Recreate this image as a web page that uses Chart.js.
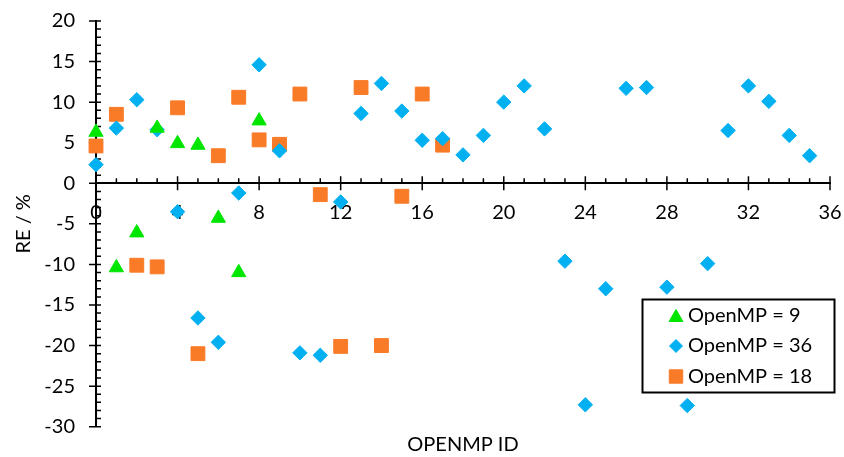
<!DOCTYPE html>
<html>
<head>
<meta charset="utf-8">
<script src="https://cdn.jsdelivr.net/npm/chart.js@4/dist/chart.umd.min.js"></script>
<style>
  html, body { margin: 0; padding: 0; background: #fff; }
  #wrap { width: 844px; height: 457px; position: relative; }
</style>
</head>
<body>
<div id="wrap"><canvas id="reChart"></canvas></div>
<script>
// RE (%) per OpenMP ID, one series per OpenMP setting
const ids9 = [0, 1, 2, 3, 4, 5, 6, 7, 8];
const re9 = [6.3, -10.4, -6.1, 6.8, 4.9, 4.7, -4.3, -11.0, 7.7];

const ids36 = [0, 1, 2, 3, 4, 5, 6, 7, 8, 9, 10, 11, 12, 13, 14, 15, 16, 17,
  18, 19, 20, 21, 22, 23, 24, 25, 26, 27, 28, 29, 30, 31, 32, 33, 34, 35];
const re36 = [2.3, 6.8, 10.3, 6.6, -3.5, -16.6, -19.6, -1.2, 14.6, 4.0,
  -20.9, -21.2, -2.3, 8.6, 12.3, 8.9, 5.3, 5.5, 3.5, 5.9, 10.0, 12.0, 6.7,
  -9.6, -27.3, -13.0, 11.7, 11.8, -12.8, -27.4, -9.9, 6.5, 12.0, 10.1, 5.9, 3.4];

const ids18 = [0, 1, 2, 3, 4, 5, 6, 7, 8, 9, 10, 11, 12, 13, 14, 15, 16, 17];
const re18 = [4.6, 8.5, -10.1, -10.3, 9.3, -21.0, 3.4, 10.6, 5.35, 4.8,
  11.0, -1.4, -20.1, 11.8, -20.0, -1.6, 11.0, 4.7];

const seriesNames = ["OpenMP = 9", "OpenMP = 36", "OpenMP = 18"];

const FONT = "Lato, 'Open Sans', sans-serif";

const toPoints = (xs, ys) => xs.map((x, i) => ({ x, y: ys[i] }));

// keep the label overhang from pushing the plot area around
const noOverhang = (scale) => {
  scale.paddingTop = 0;
  scale.paddingBottom = 0;
  scale.paddingLeft = 0;
  scale.paddingRight = 0;
};

// small tick marks like the original (minor 1, major every 4 / 5)
const tickMarks = {
  id: "tickMarks",
  beforeDatasetsDraw(chart) {
    const { ctx, scales: { x, y } } = chart;
    const yZero = y.getPixelForValue(0);
    const xZero = x.getPixelForValue(0);
    ctx.save();
    ctx.strokeStyle = "#000";
    ctx.lineWidth = 1.5;
    ctx.beginPath();
    for (let v = 0; v <= 36; v++) {
      const px = x.getPixelForValue(v);
      if (v % 4 === 0) {
        ctx.moveTo(px, yZero - 7);
        ctx.lineTo(px, yZero + 7);
      } else {
        ctx.moveTo(px, yZero - 5);
        ctx.lineTo(px, yZero);
      }
    }
    for (let v = -30; v <= 20; v++) {
      const py = y.getPixelForValue(v);
      if (v % 5 === 0) {
        ctx.moveTo(xZero - 7, py);
        ctx.lineTo(xZero + 5, py);
      } else {
        ctx.moveTo(xZero, py);
        ctx.lineTo(xZero + 5, py);
      }
    }
    ctx.stroke();
    ctx.restore();
  },
};

// boxed legend sitting inside the plot, lower right
const boxLegend = {
  id: "boxLegend",
  afterDatasetsDraw(chart) {
    const { ctx } = chart;
    const left = 642.5, top = 299.5, w = 192, h = 93;
    ctx.save();
    ctx.fillStyle = "#fff";
    ctx.fillRect(left, top, w, h);
    ctx.strokeStyle = "#000";
    ctx.lineWidth = 2;
    ctx.strokeRect(left, top, w, h);
    ctx.font = "20px " + FONT;
    ctx.textBaseline = "middle";
    chart.data.datasets.forEach((ds, i) => {
      const cy = top + 16 + i * 30.5;
      ctx.fillStyle = ds.backgroundColor;
      ctx.strokeStyle = ds.borderColor;
      ctx.lineWidth = 1;
      Chart.helpers.drawPoint(ctx, {
        pointStyle: ds.pointStyle,
        radius: ds.legendRadius,
        borderWidth: 1,
        rotation: 0,
      }, 676, cy + (ds.pointStyle === "triangle" ? 2 : 0));
      ctx.fillStyle = "#000";
      ctx.fillText(ds.label, 688, cy);
    });
    ctx.restore();
  },
};

new Chart(document.getElementById("reChart"), {
  type: "scatter",
  data: {
    datasets: [
      {
        label: seriesNames[0],
        data: toPoints(ids9, re9),
        pointStyle: "triangle",
        pointRadius: 8.2,
        legendRadius: 8,
        backgroundColor: "#00E600",
        borderColor: "#00E600",
        borderWidth: 1,
        clip: false,
      },
      {
        label: seriesNames[1],
        data: toPoints(ids36, re36),
        pointStyle: "rectRot",
        pointRadius: 7.2,
        legendRadius: 6.5,
        backgroundColor: "#00B0F0",
        borderColor: "#00B0F0",
        borderWidth: 1,
        clip: false,
      },
      {
        label: seriesNames[2],
        data: toPoints(ids18, re18),
        pointStyle: "rect",
        pointRadius: 9.8,
        legendRadius: 9.5,
        backgroundColor: "#F97B28",
        borderColor: "#F97B28",
        borderWidth: 1,
        clip: false,
      },
    ],
  },
  options: {
    responsive: true,
    maintainAspectRatio: false,
    animation: false,
    layout: { padding: { top: 21, right: 14, bottom: 0, left: 0 } },
    plugins: {
      legend: { display: false },
      tooltip: { enabled: false },
    },
    scales: {
      x: {
        type: "linear",
        position: { y: 0 },
        min: 0,
        max: 36,
        grid: { display: false, drawTicks: false },
        border: { display: true, color: "#000", width: 2 },
        ticks: {
          stepSize: 4,
          padding: 17,
          color: "#000",
          font: { family: FONT, size: 20 },
        },
        afterFit: noOverhang,
      },
      xTitle: {
        type: "linear",
        position: "bottom",
        axis: "x",
        min: 0,
        max: 36,
        grid: { display: false, drawTicks: false },
        border: { display: false },
        ticks: { display: false },
        title: {
          display: true,
          text: "OPENMP ID",
          color: "#000",
          padding: { top: 0, bottom: 0 },
          font: { family: FONT, size: 20 },
        },
        afterFit(scale) {
          noOverhang(scale);
          scale.height = 30.3;
        },
      },
      y: {
        type: "linear",
        position: "left",
        min: -30,
        max: 20,
        grid: { display: false, drawTicks: false },
        border: { display: true, color: "#000", width: 2 },
        ticks: {
          stepSize: 5,
          padding: 21,
          color: "#000",
          font: { family: FONT, size: 20 },
        },
        title: {
          display: true,
          text: "RE / %",
          color: "#000",
          padding: { top: 12, bottom: 0 },
          font: { family: FONT, size: 20 },
        },
        afterFit(scale) {
          noOverhang(scale);
          scale.width = 96;
        },
      },
    },
  },
  plugins: [tickMarks, boxLegend],
});
</script>
</body>
</html>
